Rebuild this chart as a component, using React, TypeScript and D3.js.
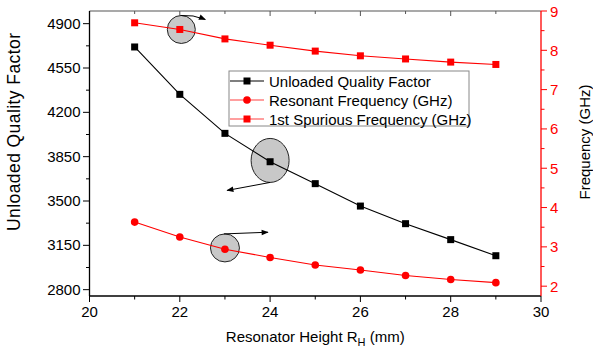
import React from "react";
import * as d3 from "d3";

const heights = [21, 22, 23, 24, 25, 26, 27, 28, 29];
const unloadedQ = [4716, 4342, 4034, 3810, 3637, 3460, 3321, 3195, 3068];
const resonantFreq = [3.63, 3.25, 2.94, 2.73, 2.54, 2.41, 2.27, 2.17, 2.09];
const spuriousFreq = [8.7, 8.53, 8.29, 8.13, 7.98, 7.86, 7.78, 7.7, 7.64];
const xTicks = [20, 22, 24, 26, 28, 30];
const qTicks = [2800, 3150, 3500, 3850, 4200, 4550, 4900];
const fTicks = [2, 3, 4, 5, 6, 7, 8, 9];
const legendLabels = [
  "Unloaded Quality Factor",
  "Resonant Frequency (GHz)",
  "1st Spurious Frequency (GHz)",
];

const W = 593;
const H = 348;
const L = 89.5;
const R = 541;
const T = 11;
const B = 296;
const FONT = "Arial, 'Liberation Sans', sans-serif";
const RED = "#ff0000";

export default function App() {
  const x = d3.scaleLinear().domain([20, 30]).range([L, R]);
  const yQ = d3.scaleLinear().domain([2750, 5000]).range([B, T]);
  const yF = d3.scaleLinear().domain([1.75, 9]).range([B, T]);

  const line = d3.line<[number, number]>().x((d) => d[0]).y((d) => d[1]);
  const qPts: [number, number][] = heights.map((h, i) => [x(h), yQ(unloadedQ[i])]);
  const rPts: [number, number][] = heights.map((h, i) => [x(h), yF(resonantFreq[i])]);
  const sPts: [number, number][] = heights.map((h, i) => [x(h), yF(spuriousFreq[i])]);

  const xMinor = d3.range(21, 30, 2);
  const qMinor = d3.range(2975, 4900, 350);
  const fMinor = d3.range(2.5, 9, 1);
  const topTicks = d3.range(21, 30, 1);

  // annotation ellipses centred on data points
  const e1 = { cx: x(22) + 1.5, cy: yF(spuriousFreq[1]), rx: 14, ry: 14 };
  const e2 = { cx: x(24), cy: yQ(unloadedQ[3]) - 1.3, rx: 19, ry: 22 };
  const e3 = { cx: x(23), cy: yF(resonantFreq[2]) - 1.3, rx: 14.5, ry: 14 };

  const arrows = [
    {
      d: `M${e1.cx - 1},${e1.cy - e1.ry} Q${e1.cx + 12},${e1.cy - e1.ry - 1} ${e1.cx + 24},${e1.cy - 10}`,
    },
    { d: `M${e2.cx},${e2.cy + e2.ry} L${e2.cx - 43},${e2.cy + 30}` },
    { d: `M${e3.cx - 1},${e3.cy - e3.ry} L${e3.cx + 43},${e3.cy - e3.ry - 1.7}` },
  ];

  const legX = 229;
  const legY = 71;
  const legRows = [81, 100, 119];

  return (
    <svg
      width={W}
      height={H}
      style={{ position: "absolute", left: 0, top: 0, background: "#fff" }}
      fontFamily={FONT}
    >
      <defs>
        <marker
          id="ah"
          viewBox="0 0 10 10"
          refX="9"
          refY="5"
          markerWidth="9"
          markerHeight="7"
          markerUnits="userSpaceOnUse"
          orient="auto"
        >
          <path d="M0,1 L10,5 L0,9 Z" fill="#000" />
        </marker>
      </defs>
      <rect x={0} y={0} width={W} height={H} fill="#fff" />

      {/* annotation ellipses (under the lines) */}
      {[e1, e2, e3].map((e, i) => (
        <ellipse key={i} cx={e.cx} cy={e.cy} rx={e.rx} ry={e.ry} fill="#c8c8c8" stroke="#222" strokeWidth={1} />
      ))}
      {arrows.map((a, i) => (
        <path key={i} d={a.d} fill="none" stroke="#000" strokeWidth={1} markerEnd="url(#ah)" />
      ))}

      {/* series */}
      <path d={line(qPts) || ""} fill="none" stroke="#000" strokeWidth={1.1} />
      <path d={line(rPts) || ""} fill="none" stroke={RED} strokeWidth={1.1} />
      <path d={line(sPts) || ""} fill="none" stroke={RED} strokeWidth={1.1} />
      {qPts.map((p, i) => (
        <rect key={i} x={p[0] - 3.5} y={p[1] - 3.5} width={7} height={7} fill="#000" />
      ))}
      {rPts.map((p, i) => (
        <circle key={i} cx={p[0]} cy={p[1]} r={3.8} fill={RED} />
      ))}
      {sPts.map((p, i) => (
        <rect key={i} x={p[0] - 3.5} y={p[1] - 3.5} width={7} height={7} fill={RED} />
      ))}

      {/* frame: top */}
      <line x1={L} x2={R} y1={T} y2={T} stroke="#555" strokeWidth={1.2} />
      {topTicks.map((t) => (
        <line key={t} x1={x(t)} x2={x(t)} y1={T} y2={T + (t % 2 === 0 ? 5 : 3)} stroke="#555" strokeWidth={1} />
      ))}

      {/* bottom axis */}
      <line x1={L - 0.5} x2={R} y1={B} y2={B} stroke="#000" strokeWidth={1.3} />
      {xTicks.map((t) => (
        <g key={t}>
          <line x1={x(t)} x2={x(t)} y1={B} y2={B + 6} stroke="#000" strokeWidth={1} />
          <text x={x(t)} y={B + 21} fontSize={15} textAnchor="middle" fill="#000">
            {t}
          </text>
        </g>
      ))}
      {xMinor.map((t) => (
        <line key={t} x1={x(t)} x2={x(t)} y1={B} y2={B + 3.5} stroke="#000" strokeWidth={1} />
      ))}
      <text x={(L + R) / 2} y={342} fontSize={15} textAnchor="middle" fill="#000">
        Resonator Height R
        <tspan fontSize={11} dy={4}>H</tspan>
        <tspan dy={-4}> (mm)</tspan>
      </text>

      {/* left axis */}
      <line x1={L} x2={L} y1={T} y2={B} stroke="#000" strokeWidth={1.3} />
      {qTicks.map((t) => (
        <g key={t}>
          <line x1={L - 6.5} x2={L} y1={yQ(t)} y2={yQ(t)} stroke="#000" strokeWidth={1} />
          <text x={L - 9} y={yQ(t) + 5} fontSize={15} textAnchor="end" fill="#000">
            {t}
          </text>
        </g>
      ))}
      {qMinor.map((t) => (
        <line key={t} x1={L - 3.5} x2={L} y1={yQ(t)} y2={yQ(t)} stroke="#000" strokeWidth={1} />
      ))}
      <text
        transform={`translate(20,132) rotate(-90)`}
        fontSize={17.5}
        textAnchor="middle"
        textLength={198}
        lengthAdjust="spacing"
        fill="#000"
      >
        Unloaded Quality Factor
      </text>

      {/* right axis */}
      <line x1={R} x2={R} y1={T} y2={B} stroke={RED} strokeWidth={1.3} />
      {fTicks.map((t) => (
        <g key={t}>
          <line x1={R} x2={R + 6} y1={yF(t)} y2={yF(t)} stroke={RED} strokeWidth={1} />
          <text x={R + 9} y={yF(t) + 5.5} fontSize={15} textAnchor="start" fill={RED}>
            {t}
          </text>
        </g>
      ))}
      {fMinor.map((t) => (
        <line key={t} x1={R} x2={R + 3.5} y1={yF(t)} y2={yF(t)} stroke={RED} strokeWidth={1} />
      ))}
      <text
        transform={`translate(590,${142}) rotate(-90)`}
        fontSize={15}
        textAnchor="middle"
        fill="#000"
      >
        Frequency (GHz)
      </text>

      {/* legend */}
      <rect x={legX} y={legY} width={240} height={55} fill="#fff" stroke="#888" strokeWidth={1} />
      {legendLabels.map((lab, i) => {
        const y = legRows[i];
        const color = i === 0 ? "#000" : "#ff4040";
        const mColor = i === 0 ? "#000" : RED;
        return (
          <g key={lab}>
            <line x1={legX + 1} x2={legX + 35} y1={y} y2={y} stroke={color} strokeWidth={1.1} />
            {i === 1 ? (
              <circle cx={legX + 18} cy={y} r={3.8} fill={mColor} />
            ) : (
              <rect x={legX + 14.5} y={y - 3.5} width={7} height={7} fill={mColor} />
            )}
            <text x={legX + 40} y={y + 5.5} fontSize={15} fill="#000">
              {lab}
            </text>
          </g>
        );
      })}
    </svg>
  );
}
